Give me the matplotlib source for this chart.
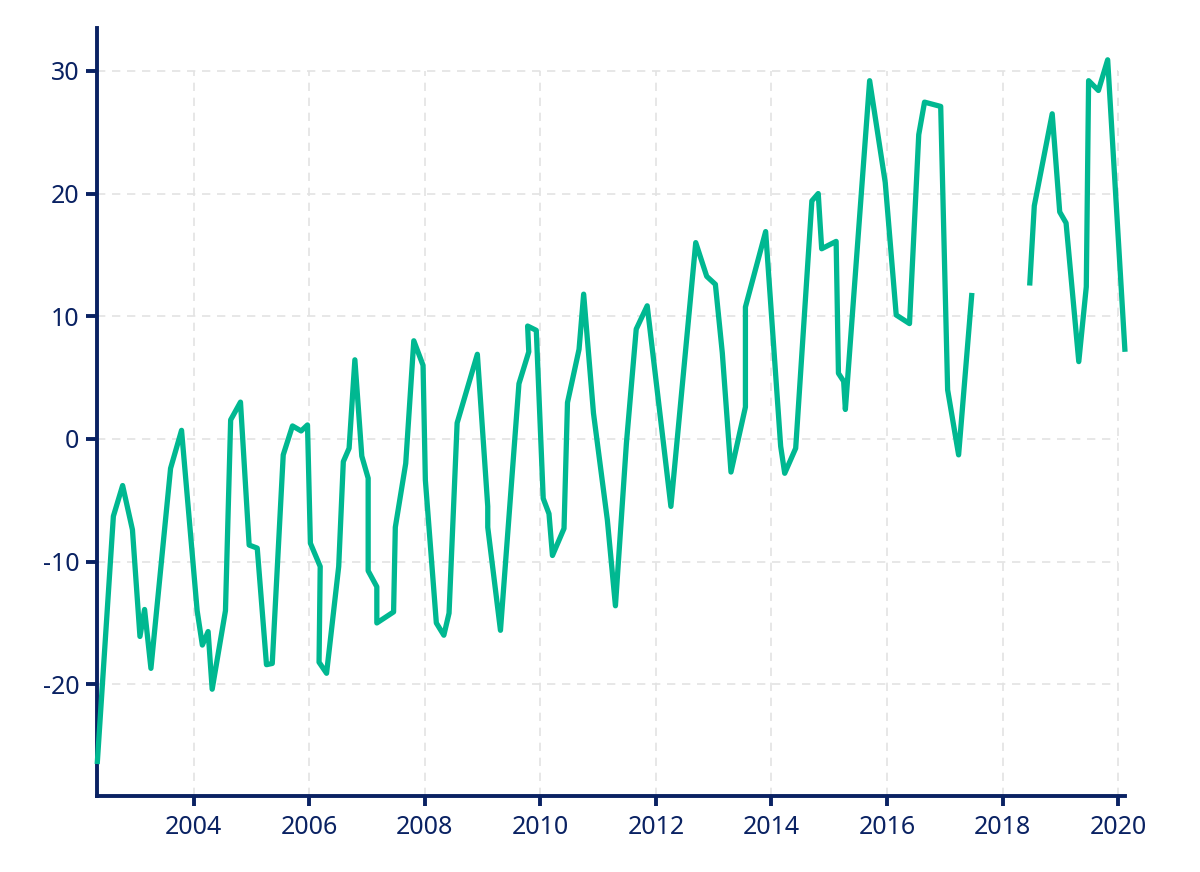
import numpy as np
import matplotlib
matplotlib.use("Agg")
import matplotlib.pyplot as plt

# ---- data (decimal year, value); NaN marks the gap in the series ----
years = [
    2002.33, 2002.61, 2002.77, 2002.94, 2003.07, 2003.15, 2003.26, 2003.60, 2003.79,
    2004.06, 2004.15, 2004.25, 2004.32, 2004.55, 2004.64, 2004.81, 2004.96, 2005.10,
    2005.26, 2005.36, 2005.55, 2005.71, 2005.86, 2005.97, 2006.02, 2006.19, 2006.17,
    2006.30, 2006.51, 2006.59, 2006.69, 2006.79, 2006.91, 2007.02, 2007.02, 2007.17,
    2007.17, 2007.46, 2007.49, 2007.67, 2007.81, 2007.97, 2008.01, 2008.20, 2008.33,
    2008.42, 2008.56, 2008.91, 2009.09, 2009.09, 2009.31, 2009.63, 2009.80, 2009.78,
    2009.93, 2010.05, 2010.15, 2010.21, 2010.41, 2010.47, 2010.67, 2010.75, 2010.92,
    2011.16, 2011.30, 2011.49, 2011.66, 2011.85, 2012.26, 2012.69, 2012.88, 2013.03,
    2013.15, 2013.30, 2013.55, 2013.55, 2013.90, 2014.16, 2014.23, 2014.42, 2014.70,
    2014.81, 2014.87, 2015.12, 2015.16, 2015.25, 2015.28, 2015.70, 2015.97, 2016.16,
    2016.39, 2016.55, 2016.65, 2016.93, 2017.05, 2017.24, 2017.47, 2017.97,
    2018.47, 2018.55, 2018.86, 2018.99, 2019.10, 2019.32, 2019.45, 2019.49, 2019.66,
    2019.82, 2020.12,
]
values = [
    -26.5, -6.3, -3.8, -7.4, -16.1, -13.9, -18.7, -2.4, 0.7,
    -14.0, -16.8, -15.7, -20.4, -14.0, 1.55, 3.0, -8.65, -8.9,
    -18.4, -18.3, -1.3, 1.06, 0.65, 1.14, -8.5, -10.4, -18.2,
    -19.1, -10.4, -1.85, -0.76, 6.45, -1.4, -3.2, -10.75, -12.05,
    -15.0, -14.1, -7.2, -2.0, 8.0, 6.0, -3.35, -15.0, -16.0,
    -14.2, 1.3, 6.9, -5.5, -7.2, -15.6, 4.5, 7.1, 9.2,
    8.85, -4.85, -6.1, -9.5, -7.3, 2.96, 7.3, 11.8, 2.1,
    -6.6, -13.6, -0.35, 8.95, 10.85, -5.5, 16.0, 13.25, 12.6,
    7.0, -2.7, 2.6, 10.75, 16.9, -0.6, -2.8, -0.76, 19.4,
    20.0, 15.5, 16.1, 5.35, 4.7, 2.4, 29.2, 20.9, 10.1,
    9.4, 24.8, 27.45, 27.1, 4.0, -1.3, 11.9, np.nan,
    12.5, 19.0, 26.5, 18.5, 17.6, 6.3, 12.4, 29.2, 28.4,
    30.9, 7.1,
]
x_ticks = [2004, 2006, 2008, 2010, 2012, 2014, 2016, 2018, 2020]
y_ticks = [-20, -10, 0, 10, 20, 30]
y_tick_labels = ["-20", "-10", "0", "10", "20", "30"]

# ---- style ----
NAVY = "#0a2263"
GREEN = "#00b891"
GRID = "#e3e3e3"
plt.rcParams["font.family"] = ["Noto Sans", "DejaVu Sans"]
plt.rcParams["axes.unicode_minus"] = False

fig = plt.figure(figsize=(12, 8.72), dpi=100)
ax = fig.add_axes([0.081, 0.0872, 0.8565, 0.8808])

xmin, xmax = 2002.33, 2020.12
ymin, ymax = -29.1, 33.5
ax.set_xlim(xmin, xmax)
ax.set_ylim(ymin, ymax)

# grid bounded by the tick range (top at 30, right at 2020)
ax.hlines(y_ticks, xmin, max(x_ticks), colors=GRID, linewidth=1.2,
          linestyles=(0, (5, 4)), zorder=1)
ax.vlines(x_ticks, ymin, max(y_ticks), colors=GRID, linewidth=1.2,
          linestyles=(0, (5, 4)), zorder=1)

ax.plot(years, values, color=GREEN, linewidth=3.8, solid_joinstyle="round",
        solid_capstyle="butt", zorder=3, clip_on=False)

ax.set_xticks(x_ticks)
ax.set_xticklabels([str(t) for t in x_ticks])
ax.set_yticks(y_ticks)
ax.set_yticklabels(y_tick_labels)

for s in ["top", "right"]:
    ax.spines[s].set_visible(False)
for s in ["left", "bottom"]:
    ax.spines[s].set_color(NAVY)
    ax.spines[s].set_linewidth(2.8)
    ax.spines[s].set_capstyle("projecting")

ax.tick_params(axis="both", colors=NAVY, labelcolor=NAVY, labelsize=18,
               width=2.8)
ax.tick_params(axis="y", length=8, pad=5)
ax.tick_params(axis="x", length=7, pad=7)

fig.savefig("out.png", dpi=100, facecolor="white")
